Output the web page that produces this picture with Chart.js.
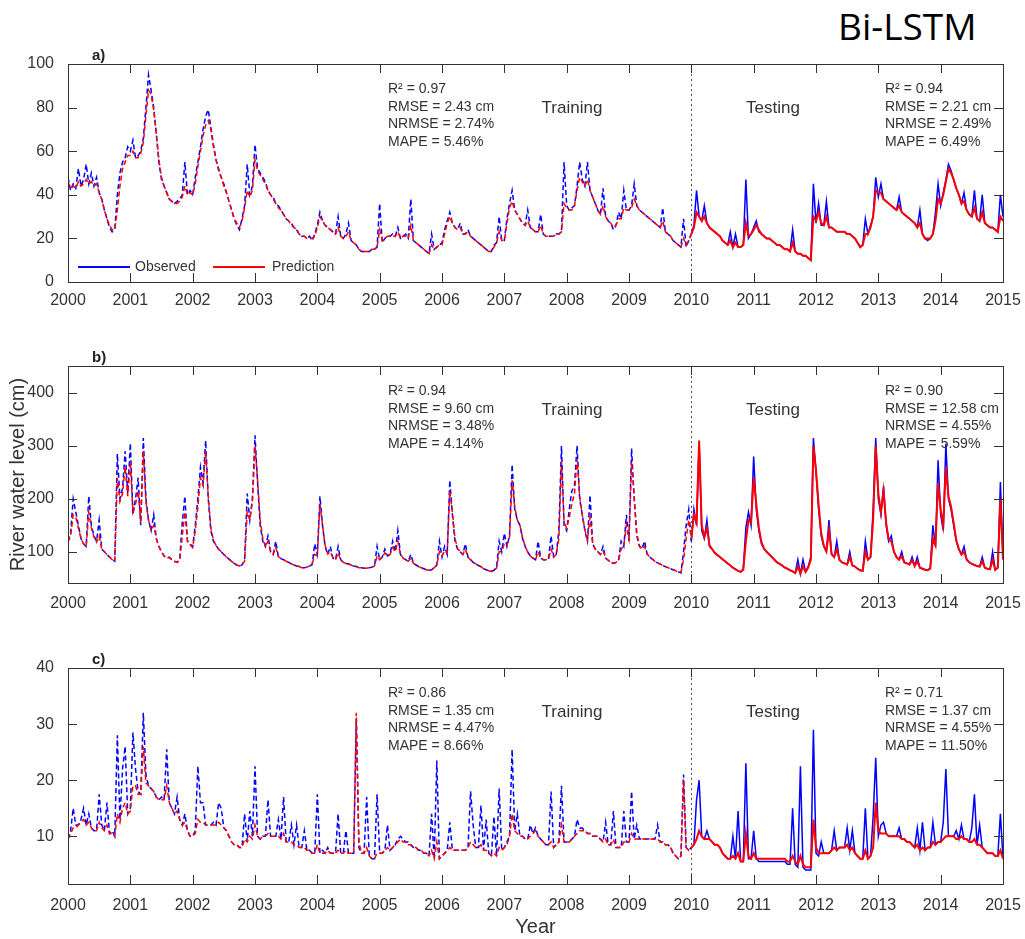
<!DOCTYPE html>
<html>
<head>
<meta charset="utf-8">
<title>Bi-LSTM river water level</title>
<script src="https://cdn.jsdelivr.net/npm/chart.js@4.4.1/dist/chart.umd.min.js"></script>
<style>
    html, body { margin: 0; padding: 0; background: #fff; }
    #page { position: relative; width: 1025px; height: 939px; overflow: hidden;
            font-family: 'Liberation Sans', Arial, sans-serif; color: #333; }
    canvas.panel { position: absolute; left: 0; }
    .txt { position: absolute; white-space: nowrap; }
    .title { font-family: 'Open Sans', 'Noto Sans', sans-serif; font-size: 37px; line-height: 48px; color: #000; }
    .letter { font-weight: bold; font-size: 15px; line-height: 18px; color: #222; }
    .stats { font-size: 14px; line-height: 17.5px; }
    .phase { font-size: 17px; line-height: 20px; transform: translateX(-50%); }
</style>
</head>
<body>
<div id="page">
    <div class="txt title" style="left:838px; top:2px;">Bi-LSTM</div>
    <canvas id="cA" class="panel" width="1025" height="274" style="top:44px"></canvas>
    <canvas id="cB" class="panel" width="1025" height="278" style="top:340px"></canvas>
    <canvas id="cC" class="panel" width="1025" height="299" style="top:640px"></canvas>
</div>
<script>
// time axis: half-month steps from 2000 to 2015
const startYear = 2000;
const stepsPerYear = 24;
const splitYear = 2010;
const yearTicks = [2000, 2001, 2002, 2003, 2004, 2005, 2006, 2007, 2008, 2009, 2010, 2011, 2012, 2013, 2014, 2015];

const yTicksA = [0, 20, 40, 60, 80, 100];
const yTicksB = [100, 200, 300, 400];
const yTicksC = [10, 20, 30, 40];

// panel a) observed / predicted (cm), 24 values per year
const obsA = [
    48,42,45,43,52,44,47,54,45,50,44,48,41,38,33,29,25,23,24,40,50,55,57,62,
    60,65,57,58,60,66,80,95,88,80,68,55,47,44,41,38,37,36,37,38,40,55,40,42,
    40,48,55,62,70,76,79,71,63,56,52,48,45,41,37,33,29,26,24,29,35,54,40,44,
    63,52,50,48,46,42,40,39,36,35,33,31,29,28,27,25,24,22,21,21,20,21,19,22,
    26,32,28,26,25,24,23,22,30,21,20,22,27,19,18,17,15,14,14,14,14,15,15,16,
    36,18,20,21,21,22,21,25,20,21,22,20,38,19,18,17,16,15,14,13,22,15,16,17,
    18,24,28,32,27,25,24,27,22,22,24,21,20,19,18,17,16,15,14,14,17,18,30,19,
    19,29,36,42,33,31,29,27,26,33,25,24,23,23,31,22,21,21,21,21,22,22,23,55,
    35,33,34,35,44,55,47,44,55,42,39,36,33,31,43,30,28,27,24,26,32,29,42,33,
    33,35,45,35,33,32,31,30,29,28,27,26,25,34,23,22,21,19,18,17,16,29,16,19,
    22,26,42,30,28,35,27,25,24,23,22,21,19,18,17,23,16,22,16,16,17,47,20,22,
    25,28,23,22,21,20,20,19,18,17,17,16,15,15,14,24,14,13,13,12,12,11,10,45,
    27,36,26,26,37,25,25,24,23,23,23,23,22,22,21,20,18,16,17,29,22,26,30,48,
    39,45,38,37,36,35,34,33,39,32,31,30,29,28,27,25,33,22,20,19,20,22,32,45,
    35,41,47,54,51,47,43,40,36,41,33,31,30,42,29,28,40,27,26,25,25,24,23,40,
    30
];
const predA = [
    46,43,44,43,46,44,45,47,45,46,44,45,41,38,33,29,26,24,24,33,44,52,55,58,
    58,60,57,57,59,64,76,88,86,79,68,56,48,44,41,38,37,36,36,37,39,44,40,41,
    40,45,53,60,67,72,74,70,62,56,51,48,44,41,37,33,29,27,25,28,34,42,39,42,
    56,51,49,47,45,42,40,38,36,34,33,31,29,28,26,25,24,22,21,21,20,20,20,21,
    25,30,28,26,25,24,23,22,25,21,20,21,23,19,18,17,15,14,14,14,14,15,15,16,
    24,19,20,21,21,21,21,23,20,21,21,20,26,19,18,17,16,15,14,13,17,15,16,17,
    17,22,27,30,27,25,24,25,22,22,23,21,20,19,18,17,16,15,14,14,16,18,23,19,
    19,27,34,37,33,31,29,27,26,28,25,24,23,23,26,22,21,21,21,21,22,22,23,36,
    34,33,33,35,42,48,46,44,47,42,39,36,33,31,35,30,28,27,25,26,29,29,34,33,
    33,34,38,35,33,32,31,30,29,28,27,26,25,28,23,22,21,19,18,17,16,20,17,19,
    22,25,32,30,28,30,27,25,24,23,22,21,19,18,17,19,16,18,16,16,17,27,21,22,
    24,26,24,22,21,20,20,19,18,17,17,16,15,15,14,18,14,13,13,12,12,11,10,30,
    28,32,27,26,30,25,25,24,23,23,23,23,22,22,21,20,18,16,17,22,22,25,30,42,
    41,41,38,37,36,35,34,33,35,32,31,30,29,28,27,25,27,22,20,20,20,22,28,38,
    36,40,46,52,50,47,43,40,36,37,33,31,30,34,29,28,32,27,26,25,25,24,23,30,
    28
];

// panel b)
const obsB = [
    120,135,200,175,150,125,115,110,205,150,130,120,160,105,100,95,90,85,82,285,200,220,290,210,
    305,170,200,240,150,315,200,160,140,170,125,110,100,92,88,90,85,82,80,85,155,205,120,115,
    110,150,200,260,230,310,200,140,120,112,105,100,95,90,86,82,78,75,73,75,85,210,160,200,
    320,230,150,120,110,130,100,95,120,90,87,85,82,80,77,75,73,72,70,70,71,73,76,115,
    95,205,150,110,95,110,88,85,110,85,80,78,77,75,73,72,70,70,69,69,70,71,73,110,
    85,90,105,92,95,120,100,140,95,88,85,82,95,78,75,72,70,68,66,65,66,70,75,120,
    90,110,95,235,170,120,105,100,95,115,90,85,80,77,74,72,68,66,64,63,65,70,120,100,
    135,110,130,265,180,160,150,125,110,100,92,88,85,120,88,85,85,86,130,90,95,140,300,150,
    140,180,215,225,300,200,170,140,120,207,115,105,100,95,110,88,84,80,78,80,85,120,110,170,
    120,295,200,130,110,105,120,95,90,86,82,79,77,74,72,70,68,66,64,62,60,100,150,180,
    120,180,150,305,140,125,160,110,105,98,94,90,86,82,78,74,70,67,64,62,68,145,175,150,
    280,180,140,115,105,100,95,90,85,80,77,74,70,68,65,63,60,85,58,85,62,72,90,315,
    250,180,130,110,100,160,95,90,120,85,80,78,76,100,74,72,68,65,64,120,85,90,180,315,
    200,170,224,150,120,130,100,90,85,100,80,78,76,90,73,90,70,68,66,65,70,150,110,273,
    170,140,304,200,180,150,120,105,95,110,85,80,77,75,73,72,90,70,68,67,100,66,70,232,
    90
];
const predB = [
    118,130,170,165,145,125,115,110,175,145,128,118,130,105,100,95,90,85,82,240,195,210,260,205,
    270,175,190,215,155,290,195,160,140,150,125,110,100,92,88,89,85,82,80,84,130,175,120,113,
    108,140,185,240,225,290,205,145,122,112,105,100,95,90,86,82,78,75,73,75,82,175,160,195,
    300,235,160,125,110,120,102,95,108,91,87,85,82,80,77,75,73,72,70,70,71,73,76,95,
    92,190,150,112,96,100,89,85,98,84,80,78,77,75,73,72,70,70,69,69,70,71,73,92,
    85,90,98,92,95,108,100,120,96,88,85,82,88,78,75,72,70,68,66,65,66,70,75,100,
    92,102,98,215,175,125,106,100,95,105,90,85,80,77,74,72,68,66,64,63,65,69,100,100,
    115,112,128,235,185,160,150,128,110,100,92,88,85,100,88,85,85,86,105,90,95,125,270,155,
    145,165,190,210,275,205,170,142,122,165,117,105,100,95,102,88,84,80,78,80,85,105,112,150,
    125,270,205,135,112,105,110,96,90,86,82,79,77,74,72,70,68,66,64,62,61,85,125,160,
    125,170,155,310,150,128,145,112,105,98,94,90,86,82,78,74,70,67,64,62,66,120,160,155,
    240,190,145,118,106,100,95,90,85,80,77,74,70,68,65,63,60,72,59,72,62,70,85,300,
    255,190,135,112,101,140,96,90,105,85,80,78,76,90,74,72,68,65,64,100,85,90,160,300,
    210,175,215,155,122,120,100,90,85,92,80,78,76,84,73,82,70,68,66,65,68,125,112,230,
    180,150,260,205,185,155,122,105,95,100,86,80,77,75,73,72,82,70,68,67,85,66,70,200,
    85
];

// panel c)
const obsC = [
    9.5,11,15,12,12,13,15,12,14,11.5,11,11,17.5,12,11,16,10.5,11,10,28,13,22,26,14,
    15,28.5,22,18,17.5,32,21,19,18.5,18,17,16.5,17,16.5,25.5,16,15,14,17,13,12,14,11,10,
    10,11,22.5,16,16,12,12,12,12.5,12,16,15,11.5,11,10,9,8.5,8.5,8,8,14,9,14.5,10,
    22.5,10,9.5,10,10,16.5,10,10,10,13,9.5,17,9,9,12,8.5,12,8,8,11,7.5,7.5,7,7,
    17.5,7,7.5,7,8,7,7,7,14,7,7,11,7,7,7,31,8,7,7,17,6.5,6,6,17.5,
    7,7,7.5,12,7.5,8,8.5,9.5,10,9.5,9,9,8.5,8,8,7.5,7.5,7,7,6.5,14,6,23.5,6,
    6.5,7,7.5,12.5,7.5,7.5,7.5,7.5,7.5,7.5,8,18,12,8,8,15.5,7.5,13,7,6.5,13.5,6.5,18.5,7.5,
    8,9,10,25.5,11,14,10,10,9.5,9.5,12,10.5,11.5,10,9.5,9,8.5,8.5,18,8,8.5,9,19,9,
    9,9,9.5,10,13,11.5,11.5,11,10.5,10.5,10,10,10,9.5,9,12.5,8.5,8.5,14.5,8,8,8,14.5,9,
    9,18,9.5,12,9.5,9.5,9.5,9.5,9.5,9.5,9.5,12,9,9,8.5,8.5,8,7,6.5,6,6.5,21,8,7.5,
    8,8.5,16.5,20,10,9.5,11,9.5,9,8.5,8.5,8,7,6.5,6,6,10,6,14.5,5.5,5.5,23,6,6,
    11,6,5.5,5.5,5.5,5.5,5.5,5.5,5.5,5.5,5.5,5.5,5.5,5,5,15,5,4.5,22.5,4.5,4,4,4,29,
    7,6.5,9,7,7,7,7.5,11,7.5,8,8,8,11.5,7.5,11,7,6.5,6,6,15,6,6.5,13.5,24,
    10,12,12.5,10.5,10,10,10,10,11.5,9.5,9.5,9,9,8.5,8,11.5,7.5,12.5,7.5,8,8,12.5,8.5,9,
    9,12.5,22,10,10,10,11,9.5,12,9.5,9.5,9,11.5,17.5,8.5,12,8,7.5,7,7,7,6.5,6.5,14,
    6
];
const predC = [
    9.5,10.5,11.5,11.5,12,12.5,13,12,12.5,11.5,11,11,12.5,11.5,11,12,10.5,10.5,10,14,12.5,15,16,14,
    14.5,19,19,17.5,17.5,26,19.5,19,18.5,18,17,16.5,16.5,16.5,19,16,15,14,14.5,13,12,12.5,11,10,
    10,10.5,13,12.5,12.5,12,12,12,12,12,12.5,12,11.5,11,10,9,8.5,8.5,8,8,9.5,9,10,9.5,
    12,10,9.5,10,10,10.5,10,10,10,10,9.5,10.5,9,9,9,8.5,8.5,8,8,8,7.5,7.5,7,7,
    8.5,7,7,7,7.5,7,7,7,7.5,7,7,7.5,7,7,7,32,9,7,7,8,6.5,6,6,7,
    7,7,7.5,8,7.5,8,8.5,9,9.5,9,9,8.5,8.5,8,8,7.5,7.5,7,7,6.5,7.5,6,9,6,
    6.5,7,7.5,8,7.5,7.5,7.5,7.5,7.5,7.5,8,9,8.5,8,8,8.5,7.5,7.5,7,6.5,7,6.5,8,7.5,
    8,8.5,10,14,11,10.5,10,10,9.5,9.5,10,10.5,11,10,9.5,9,8.5,8.5,9,8,8.5,9,12,9,
    9,9,9.5,10,10.5,11,11,11,10.5,10.5,10,10,10,9.5,9,9.5,8.5,8.5,9.5,8,8,8,9,9,
    9,10.5,9.5,9.5,9.5,9.5,9.5,9.5,9.5,9.5,9.5,9.5,9,9,8.5,8.5,8,7,6.5,6,6.5,20,8,7.5,
    8,8.5,9.5,11,10,9.5,9.5,9.5,9,8.5,8.5,8,7,6.5,6,6,6.5,6,7,5.5,5.5,10.5,6.5,6,
    7,6,6,6,6,6,6,6,6,6,6,6,6,5.5,5.5,6.5,5.5,5,6.5,5,4.5,4.5,4.5,13,
    8,7,7,7,7,7,7.5,8,7.5,8,8,8,8.5,7.5,8,7,6.5,6,6,7.5,6,6.5,8,16,
    11,10.5,10.5,10.5,10,10,10,10,10,9.5,9.5,9,9,8.5,8,8.5,7.5,8,7.5,8,8,9,8.5,9,
    9,9.5,10,10,10,10,9.5,9.5,10,9.5,9.5,9,9,9.5,8.5,8.5,8,7.5,7,7,7,6.5,6.5,7.5,
    6
];

// goodness-of-fit text boxes
const statsTrainA = ['R² = 0.97', 'RMSE = 2.43 cm', 'NRMSE = 2.74%', 'MAPE = 5.46%'];
const statsTestA  = ['R² = 0.94', 'RMSE = 2.21 cm', 'NRMSE = 2.49%', 'MAPE = 6.49%'];
const statsTrainB = ['R² = 0.94', 'RMSE = 9.60 cm', 'NRMSE = 3.48%', 'MAPE = 4.14%'];
const statsTestB  = ['R² = 0.90', 'RMSE = 12.58 cm', 'NRMSE = 4.55%', 'MAPE = 5.59%'];
const statsTrainC = ['R² = 0.86', 'RMSE = 1.35 cm', 'NRMSE = 4.47%', 'MAPE = 8.66%'];
const statsTestC  = ['R² = 0.71', 'RMSE = 1.37 cm', 'NRMSE = 4.55%', 'MAPE = 11.50%'];

const seriesNames = ['Observed', 'Prediction'];
const obsColor = '#0000ff';
const predColor = '#ff0000';
const axisColor = '#333';
const tickFont = { family: "'Liberation Sans', Arial, sans-serif", size: 16 };

function toPoints(values) {
    return values.map((v, i) => ({ x: startYear + i / stepsPerYear, y: v }));
}

// draws the MATLAB-like box with inward ticks, the 2010 split line and the legend
const boxPlugin = {
    id: 'matlabBox',
    afterDatasetsDraw(chart, args, opts) {
        const { ctx, chartArea: a, scales: { x, y } } = chart;
        const tickLen = 9;
        ctx.save();

        // dotted line separating training / testing
        const xs = Math.round(x.getPixelForValue(splitYear)) + 0.5;
        ctx.strokeStyle = '#555';
        ctx.lineWidth = 1;
        ctx.setLineDash([2, 3]);
        ctx.beginPath();
        ctx.moveTo(xs, a.top);
        ctx.lineTo(xs, a.bottom);
        ctx.stroke();
        ctx.setLineDash([]);

        // axes box
        ctx.strokeStyle = axisColor;
        ctx.strokeRect(Math.round(a.left) + 0.5, Math.round(a.top) + 0.5,
            Math.round(a.right - a.left), Math.round(a.bottom - a.top));

        // inward ticks on all four sides
        ctx.beginPath();
        x.ticks.forEach(t => {
            const px = Math.round(x.getPixelForValue(t.value)) + 0.5;
            ctx.moveTo(px, a.bottom); ctx.lineTo(px, a.bottom - tickLen);
            ctx.moveTo(px, a.top); ctx.lineTo(px, a.top + tickLen);
        });
        y.ticks.forEach(t => {
            const py = Math.round(y.getPixelForValue(t.value)) + 0.5;
            ctx.moveTo(a.left, py); ctx.lineTo(a.left + tickLen, py);
            ctx.moveTo(a.right, py); ctx.lineTo(a.right - tickLen, py);
        });
        ctx.stroke();

        // legend inside the lower-left corner (panel a only)
        if (opts.legend) {
            const ly = a.bottom - 15;
            ctx.font = "14px 'Liberation Sans', Arial, sans-serif";
            ctx.textBaseline = 'middle';
            ctx.fillStyle = '#333';
            ctx.lineWidth = 2;
            ctx.strokeStyle = obsColor;
            ctx.beginPath(); ctx.moveTo(a.left + 10, ly); ctx.lineTo(a.left + 62, ly); ctx.stroke();
            ctx.fillText(seriesNames[0], a.left + 67, ly);
            ctx.strokeStyle = predColor;
            ctx.beginPath(); ctx.moveTo(a.left + 145, ly); ctx.lineTo(a.left + 197, ly); ctx.stroke();
            ctx.fillText(seriesNames[1], a.left + 204, ly);
        }
        ctx.restore();
    }
};

function makePanel(cfg) {
    const trainDash = c => (c.p0.parsed.x < splitYear - 1e-6 ? [5, 3] : undefined);
    const trainWidth = c => (c.p0.parsed.x < splitYear - 1e-6 ? 1.5 : undefined);

    return new Chart(document.getElementById(cfg.id), {
        type: 'line',
        data: {
            datasets: [
                {
                    label: seriesNames[1],
                    data: toPoints(cfg.pred),
                    borderColor: predColor,
                    borderWidth: 2,
                    borderDash: [],
                    pointRadius: 0,
                    segment: { borderDash: trainDash, borderWidth: trainWidth }
                },
                {
                    label: seriesNames[0],
                    data: toPoints(cfg.obs),
                    borderColor: obsColor,
                    borderWidth: 1.5,
                    borderDash: [],
                    pointRadius: 0,
                    segment: { borderDash: trainDash }
                }
            ]
        },
        options: {
            responsive: false,
            animation: false,
            events: [],
            layout: { padding: { top: cfg.padTop, right: 22, left: 0, bottom: 0 } },
            plugins: {
                legend: { display: false },
                tooltip: { enabled: false },
                matlabBox: { legend: !!cfg.legend }
            },
            scales: {
                x: {
                    type: 'linear',
                    min: startYear,
                    max: 2015,
                    grid: { display: false },
                    border: { display: false },
                    afterBuildTicks: s => { s.ticks = yearTicks.map(v => ({ value: v })); },
                    afterFit: s => { s.height = cfg.xHeight; },
                    ticks: {
                        autoSkip: false, maxRotation: 0, padding: cfg.labelPad,
                        color: '#333', font: tickFont,
                        callback: v => String(v)
                    },
                    title: {
                        display: !!cfg.xTitle,
                        text: 'Year',
                        color: '#333',
                        font: { family: tickFont.family, size: 20 },
                        padding: { top: 0, bottom: 0 }
                    }
                },
                y: {
                    min: cfg.min,
                    max: cfg.max,
                    grid: { display: false },
                    border: { display: false },
                    afterBuildTicks: s => { s.ticks = cfg.yTicks.map(v => ({ value: v })); },
                    afterFit: s => { s.width = 68; },
                    ticks: { padding: 6, color: '#333', font: tickFont, callback: v => String(v) },
                    title: {
                        display: !!cfg.yTitle,
                        text: 'River water level (cm)',
                        color: '#333',
                        font: { family: tickFont.family, size: 20 },
                        padding: { top: 6, bottom: 0 }
                    }
                }
            }
        },
        plugins: [boxPlugin]
    });
}

const panels = [
    { id: 'cA', top: 44, padTop: 20, xHeight: 36, labelPad: 1, obs: obsA, pred: predA,
      min: 0, max: 100, yTicks: yTicksA, letter: 'a)', train: statsTrainA, test: statsTestA, legend: true },
    { id: 'cB', top: 340, padTop: 26, xHeight: 35, labelPad: 3, obs: obsB, pred: predB,
      min: 41, max: 451, yTicks: yTicksB, letter: 'b)', train: statsTrainB, test: statsTestB, yTitle: true },
    { id: 'cC', top: 640, padTop: 28, xHeight: 55, labelPad: 4, obs: obsC, pred: predC,
      min: 1.5, max: 40, yTicks: yTicksC, letter: 'c)', train: statsTrainC, test: statsTestC, xTitle: true }
];

const page = document.getElementById('page');
function addText(cls, html, left, top) {
    const d = document.createElement('div');
    d.className = 'txt ' + cls;
    d.innerHTML = html;
    d.style.left = left + 'px';
    d.style.top = top + 'px';
    page.appendChild(d);
}

panels.forEach(p => {
    makePanel(p);
    const boxTop = p.top + p.padTop;
    addText('letter', p.letter, 92, boxTop - 18);
    addText('stats', p.train.join('<br>'), 388, boxTop + 16);
    addText('stats', p.test.join('<br>'), 885, boxTop + 16);
    addText('phase', 'Training', 572, boxTop + 34);
    addText('phase', 'Testing', 773, boxTop + 34);
});
</script>
</body>
</html>
